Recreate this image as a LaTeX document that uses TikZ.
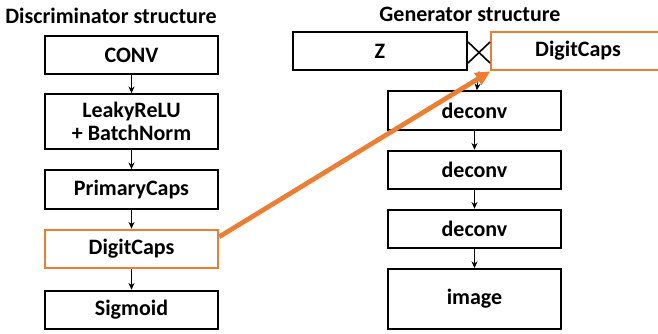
\documentclass[tikz,border=0pt]{standalone}
\usepackage{fontspec}
\setmainfont{Carlito}
\usepackage{tikz}
\usetikzlibrary{arrows.meta,calc}
\definecolor{capsorange}{HTML}{ED7D31}

\begin{document}
\begin{tikzpicture}[x=0.75pt,y=0.75pt,yscale=-1,xscale=1,
    blk/.style={draw, line width=1.5pt, minimum width=130pt, minimum height=29pt, font=\bfseries\fontsize{16.5}{17.5}\selectfont, align=center, inner sep=0pt},
    capsblk/.style={blk, draw=capsorange},
    flow/.style={line width=0.6pt, -{Stealth[length=5pt,width=4.5pt]}},
    ttl/.style={font=\bfseries\fontsize{16.5}{18}\selectfont, inner sep=0pt}]
    \useasboundingbox (0,0) rectangle (658,334);

    %Discriminator
    \node[ttl] (dtitle) at (111,16) {Discriminator structure};
    \node[blk] (conv) at (131.5,55) {CONV};
    \node[blk, minimum height=41pt] (leaky) at (131.5,121.5) {LeakyReLU\\+ BatchNorm};
    \node[blk] (prim) at (131.5,189.5) {PrimaryCaps};
    \node[capsblk] (dcd) at (131.5,249) {DigitCaps};
    \node[blk] (sig) at (131.5,310) {Sigmoid};
    \draw[flow] (conv) -- (leaky);
    \draw[flow] (leaky) -- (prim);
    \draw[flow] (prim) -- (dcd);
    \draw[flow] (dcd) -- (sig);

    %Generator
    \node[ttl] (gtitle) at (470,14) {Generator structure};
    \node[blk] (z) at (380,51) {Z};
    \node[capsblk] (dcg) at (578,51) {DigitCaps};
    \node[blk] (dec1) at (474.5,110.5) {deconv};
    \node[blk] (dec2) at (474.5,170) {deconv};
    \node[blk] (dec3) at (474.5,229) {deconv};
    \node[blk, minimum height=45pt] (img) at (474.5,299) {image};

    %cross between Z and DigitCaps
    \coordinate (xtl) at (468,42);
    \coordinate (xbr) at (490,63);
    \draw[line width=1.2pt] (xtl) -- (xbr) (xtl |- xbr) -- (xbr |- xtl);
    \coordinate (zc) at ($(z.south east)!0.5!(dcg.south west)$);
    \draw[flow] (zc) -- (dec1);
    \draw[flow] (dec1) -- (dec2);
    \draw[flow] (dec2) -- (dec3);
    \draw[flow] (dec3) -- (img);

    %capsule link
    \coordinate (linkstart) at ($(dcd.north east)!0.2!(dcd.south east)$);
    \draw[capsorange, line width=3.5pt, -{Triangle[length=11pt,width=10pt]}] (linkstart) -- (dcg.south west);
\end{tikzpicture}
\end{document}
